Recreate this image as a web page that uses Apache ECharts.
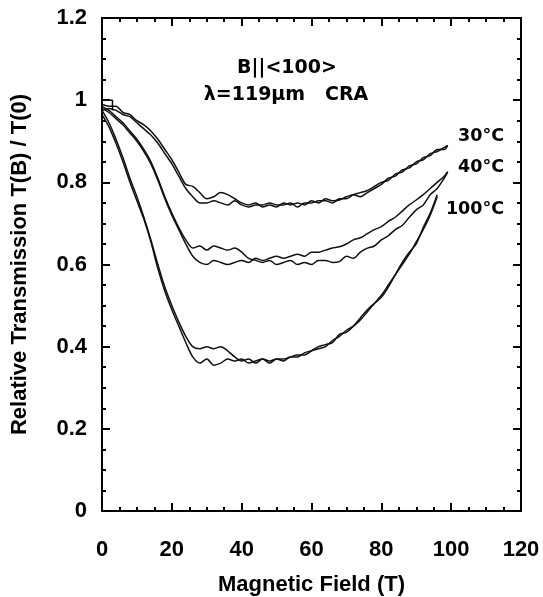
<!DOCTYPE html>
<html>
<head>
<meta charset="utf-8">
<script src="https://cdn.jsdelivr.net/npm/echarts@6/dist/echarts.min.js"></script>
<style>
html,body{margin:0;padding:0;background:#fff;}
#chart{width:543px;height:597px;}
</style>
</head>
<body>
<div id="chart"></div>
<script>
// Magnetic field (T)
var field = [0,2,4,6,8,10,12,14,16,18,20,22,24,26,28,30,32,34,36,38,40,42,44,46,48,50,52,54,56,58,60,62,64,66,68,70,72,74,76,78,80,82,84,86,88,90,92,94,96,98,99];

// Relative transmission T(B)/T(0), two sweeps per temperature
var t30a = [0.99,0.985,0.985,0.97,0.965,0.95,0.94,0.925,0.905,0.88,0.855,0.825,0.795,0.79,0.775,0.76,0.765,0.775,0.77,0.76,0.75,0.745,0.75,0.74,0.745,0.74,0.75,0.745,0.75,0.745,0.755,0.75,0.76,0.755,0.757,0.765,0.77,0.765,0.775,0.785,0.795,0.81,0.815,0.83,0.835,0.85,0.855,0.87,0.875,0.885,0.89];
var t30b = [0.975,0.98,0.975,0.965,0.96,0.945,0.93,0.915,0.895,0.87,0.845,0.815,0.785,0.765,0.75,0.75,0.755,0.75,0.745,0.755,0.745,0.74,0.745,0.745,0.75,0.745,0.745,0.75,0.74,0.75,0.75,0.755,0.755,0.75,0.76,0.76,0.77,0.775,0.78,0.79,0.80,0.805,0.82,0.825,0.84,0.845,0.86,0.865,0.88,0.88,0.89];
var t40a = [0.985,0.975,0.96,0.945,0.925,0.905,0.88,0.85,0.81,0.765,0.725,0.69,0.66,0.64,0.645,0.635,0.645,0.64,0.635,0.64,0.63,0.615,0.61,0.605,0.61,0.60,0.605,0.61,0.60,0.605,0.60,0.61,0.61,0.605,0.607,0.62,0.615,0.63,0.64,0.645,0.66,0.67,0.685,0.695,0.715,0.733,0.745,0.77,0.785,0.81,0.825];
var t40b = [0.98,0.97,0.955,0.94,0.92,0.90,0.875,0.845,0.805,0.76,0.72,0.685,0.65,0.62,0.605,0.60,0.61,0.605,0.60,0.605,0.61,0.605,0.615,0.61,0.615,0.62,0.615,0.62,0.625,0.62,0.63,0.63,0.635,0.64,0.643,0.65,0.66,0.665,0.675,0.685,0.692,0.705,0.715,0.73,0.745,0.757,0.77,0.785,0.80,0.815,0.826];
var t100a = [0.975,0.945,0.905,0.86,0.81,0.765,0.715,0.66,0.60,0.545,0.50,0.46,0.425,0.40,0.395,0.40,0.395,0.40,0.39,0.375,0.365,0.37,0.36,0.37,0.365,0.37,0.365,0.375,0.375,0.385,0.39,0.395,0.40,0.415,0.425,0.44,0.45,0.465,0.485,0.505,0.525,0.55,0.575,0.60,0.625,0.655,0.685,0.72,0.765,null,null];
var t100b = [0.965,0.935,0.895,0.85,0.80,0.755,0.71,0.655,0.59,0.535,0.49,0.45,0.41,0.375,0.36,0.37,0.355,0.36,0.37,0.365,0.37,0.36,0.365,0.37,0.36,0.37,0.37,0.375,0.38,0.38,0.39,0.40,0.405,0.41,0.43,0.435,0.45,0.47,0.49,0.505,0.52,0.545,0.575,0.605,0.63,0.65,0.69,0.725,0.77,null,null];
// normalisation step at the start of one sweep
var boxField = [0,3,3];
var boxT = [1.0,1.0,0.975];

var xTicks = [0,20,40,60,80,100,120];
var yTicks = [0,0.2,0.4,0.6,0.8,1,1.2];
var tempLabels = ['30\u00b0C','40\u00b0C','100\u00b0C'];

function pairs(xs, ys){
  var out = [];
  for (var i=0;i<xs.length;i++){ if (ys[i]!==null) out.push([xs[i], ys[i]]); }
  return out;
}

var FONT = '"Liberation Sans", Arial, sans-serif';
var FONT2 = '"DejaVu Sans", sans-serif';
var chart = echarts.init(document.getElementById('chart'), null, {renderer:'canvas'});

function xAx(pos, showLabel){
  return {
    type:'value', position:pos, min:xTicks[0], max:xTicks[xTicks.length-1], interval:20,
    axisLine:{show:true, onZero:false, lineStyle:{color:'#000', width:2}},
    axisTick:{show:true, inside:true, length:8, lineStyle:{color:'#000', width:2}},
    minorTick:{show:true, splitNumber:4, length:4, lineStyle:{color:'#000', width:2}},
    splitLine:{show:false},
    axisLabel:{show:showLabel, margin:28, color:'#000', fontFamily:FONT, fontWeight:'bold', fontSize:22},
    name: showLabel ? 'Magnetic Field (T)' : '',
    nameLocation:'middle', nameGap:63,
    nameTextStyle:{color:'#000', fontFamily:FONT, fontWeight:'bold', fontSize:22}
  };
}
function yAx(pos, showLabel){
  return {
    type:'value', position:pos, min:yTicks[0], max:yTicks[yTicks.length-1], interval:0.2,
    axisLine:{show:true, onZero:false, lineStyle:{color:'#000', width:2}},
    axisTick:{show:true, inside:true, length:8, lineStyle:{color:'#000', width:2}},
    minorTick:{show:true, splitNumber:4, length:4, lineStyle:{color:'#000', width:2}},
    splitLine:{show:false},
    axisLabel:{show:showLabel, margin:15, color:'#000', fontFamily:FONT, fontWeight:'bold', fontSize:22,
      formatter:function(v){ return String(Math.round(v*10)/10); }},
    name: showLabel ? 'Relative Transmission T(B) / T(0)' : '',
    nameLocation:'middle', nameGap:71, nameRotate:90,
    nameTextStyle:{color:'#000', fontFamily:FONT, fontWeight:'bold', fontSize:22}
  };
}

function line(data){
  return {type:'line', data:data, xAxisIndex:0, yAxisIndex:0, showSymbol:false, symbol:'none',
    smooth:0.3, lineStyle:{color:'#111', width:1.5}, silent:true, connectNulls:false};
}

var textStyleBig = {fill:'#000', fontFamily:FONT2, fontWeight:'bold', fontSize:19};
var textStyleT = {fill:'#000', fontFamily:FONT2, fontWeight:'bold', fontSize:17.5};

chart.setOption({
  animation:false,
  backgroundColor:'#fff',
  grid:{left:102, right:22, top:18, bottom:86, containLabel:false, outerBoundsMode:'none'},
  xAxis:[xAx('bottom', true), xAx('top', false)],
  yAxis:[yAx('left', true), yAx('right', false)],
  series:[
    line(pairs(field, t30a)), line(pairs(field, t30b)),
    line(pairs(field, t40a)), line(pairs(field, t40b)),
    line(pairs(field, t100a)), line(pairs(field, t100b)),
    Object.assign(line(pairs(boxField, boxT)), {smooth:false})
  ],
  graphic:[
    {type:'text', style:Object.assign({text:'B||<100>', x:287, y:68, align:'center', verticalAlign:'middle'}, textStyleBig)},
    {type:'text', style:Object.assign({text:'\u03bb=119\u03bcm   CRA', x:286, y:95, align:'center', verticalAlign:'middle'}, textStyleBig)},
    {type:'text', style:Object.assign({text:tempLabels[0], x:504, y:136, align:'right', verticalAlign:'middle'}, textStyleT)},
    {type:'text', style:Object.assign({text:tempLabels[1], x:504, y:167, align:'right', verticalAlign:'middle'}, textStyleT)},
    {type:'text', style:Object.assign({text:tempLabels[2], x:504, y:209, align:'right', verticalAlign:'middle'}, textStyleT)}
  ]
});
</script>
</body>
</html>
